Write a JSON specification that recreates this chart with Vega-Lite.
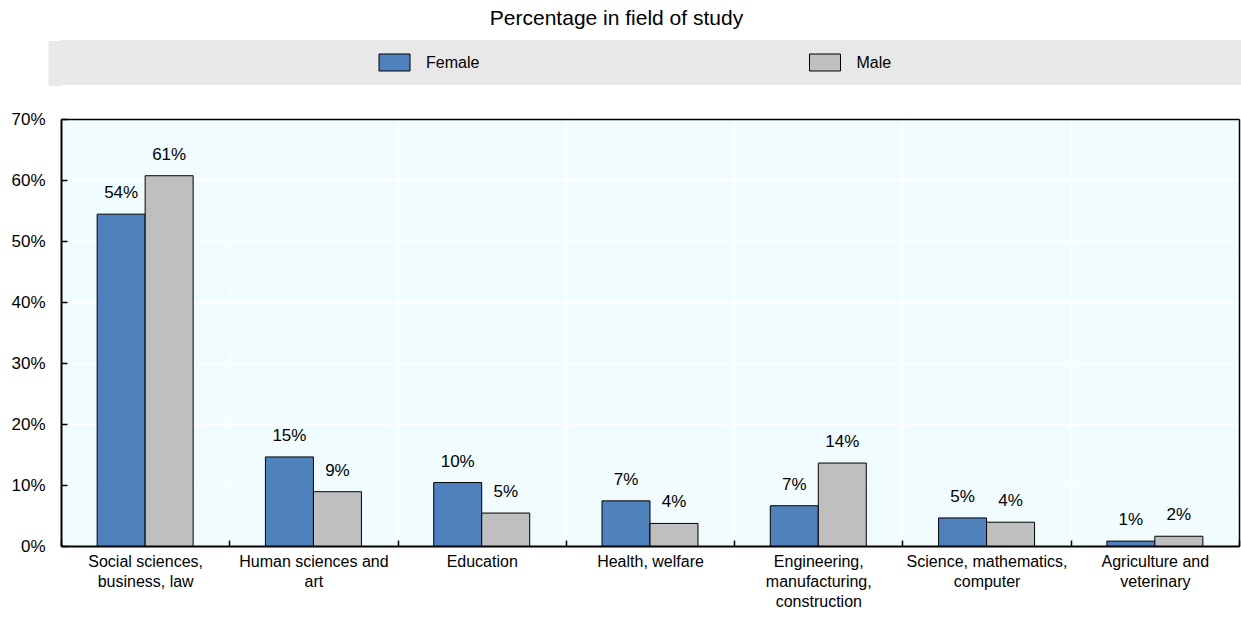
{
  "$schema": "https://vega.github.io/schema/vega-lite/v6.json",
  "padding": {"left": 10, "top": 8, "right": 0, "bottom": 0},
  "background": "white",
  "title": {"text": "Percentage in field of study", "anchor": "middle", "frame": "bounds", "fontSize": 21, "fontWeight": "normal", "font": "Liberation Sans", "color": "#000000", "offset": 11, "dx": -10},
  "spacing": 24,
  "resolve": {"scale": {"x": "independent", "y": "independent"}},
  "config": {"font": "Liberation Sans", "view": {"stroke": null}},
  "datasets": {
    "legend": [{"sex": "Female"}, {"sex": "Male"}],
    "main": [
      {"field": "Social sciences, business, law", "sex": "Female", "value": 0.544},
      {"field": "Social sciences, business, law", "sex": "Male", "value": 0.607},
      {"field": "Human sciences and art", "sex": "Female", "value": 0.146},
      {"field": "Human sciences and art", "sex": "Male", "value": 0.089},
      {"field": "Education", "sex": "Female", "value": 0.104},
      {"field": "Education", "sex": "Male", "value": 0.054},
      {"field": "Health, welfare", "sex": "Female", "value": 0.074},
      {"field": "Health, welfare", "sex": "Male", "value": 0.037},
      {"field": "Engineering, manufacturing, construction", "sex": "Female", "value": 0.066},
      {"field": "Engineering, manufacturing, construction", "sex": "Male", "value": 0.136},
      {"field": "Science, mathematics, computer", "sex": "Female", "value": 0.046},
      {"field": "Science, mathematics, computer", "sex": "Male", "value": 0.039},
      {"field": "Agriculture and veterinary", "sex": "Female", "value": 0.008},
      {"field": "Agriculture and veterinary", "sex": "Male", "value": 0.016}
    ]
  },
  "vconcat": [
    {
      "width": 1181,
      "height": 45,
      "view": {"fill": "#e8e8e8", "stroke": null},
      "data": {"name": "legend"},
      "encoding": {
        "x": {"field": "sex", "type": "nominal", "scale": {"type": "point", "padding": 0.8717, "align": 0.4444}, "axis": null},
        "y": {"datum": 0.5, "type": "quantitative", "scale": {"domain": [0, 1]},
              "axis": {"values": [0.5], "labels": false, "domain": false, "grid": false, "ticks": true, "tickSize": 13, "tickWidth": 45, "tickCap": "butt", "tickColor": "#e8e8e8", "title": null}}
      },
      "layer": [
        {
          "mark": {"type": "point", "shape": "M-1,-0.548H1V0.548H-1Z", "size": 961, "filled": true, "stroke": "#000000", "strokeWidth": 1, "opacity": 1},
          "encoding": {"fill": {"field": "sex", "type": "nominal", "scale": {"domain": ["Female", "Male"], "range": ["#4F81BD", "#BFBFBF"]}, "legend": null}}
        },
        {
          "mark": {"type": "text", "align": "left", "baseline": "middle", "dx": 31.5, "fontSize": 16, "color": "#000000"},
          "encoding": {"text": {"field": "sex", "type": "nominal"}}
        }
      ]
    },
    {
      "width": 1178,
      "height": 427,
      "view": {"fill": "#F0FCFF", "stroke": null},
      "data": {"name": "main"},
      "resolve": {"axis": {"x": "independent", "y": "independent"}},
      "layer": [
        {
          "mark": {"type": "bar", "stroke": "#000000", "strokeWidth": 1},
          "encoding": {
            "x": {"field": "field", "type": "nominal",
                  "sort": ["Social sciences, business, law", "Human sciences and art", "Education", "Health, welfare", "Engineering, manufacturing, construction", "Science, mathematics, computer", "Agriculture and veterinary"],
                  "scale": {"paddingInner": 0, "paddingOuter": 0},
                  "axis": {"title": null, "labelAngle": 0, "tickBand": "extent", "ticks": true, "tickSize": -6, "tickColor": "#000000", "tickWidth": 1.5,
                           "grid": true, "gridColor": "#ffffff", "gridWidth": 1.5, "domainColor": "#000000", "domainWidth": 2,
                           "labelFontSize": 16, "labelColor": "#000000", "labelPadding": 13, "labelLineHeight": 20, "labelBaseline": "top", "labelLimit": 0,
                           "labelExpr": "{'Social sciences, business, law': ['Social sciences,', 'business, law'], 'Human sciences and art': ['Human sciences and', 'art'], 'Education': 'Education', 'Health, welfare': 'Health, welfare', 'Engineering, manufacturing, construction': ['Engineering,', 'manufacturing,', 'construction'], 'Science, mathematics, computer': ['Science, mathematics,', 'computer'], 'Agriculture and veterinary': ['Agriculture and', 'veterinary']}[datum.label]"}},
            "xOffset": {"field": "sex", "type": "nominal", "sort": ["Female", "Male"], "scale": {"paddingInner": 0, "paddingOuter": 0.753}},
            "y": {"field": "value", "type": "quantitative", "scale": {"domain": [0, 0.7], "nice": false},
                  "axis": {"title": null, "values": [0, 0.1, 0.2, 0.3, 0.4, 0.5, 0.6, 0.7], "format": ".0%", "tickSize": -6, "tickColor": "#000000", "tickWidth": 1.5,
                           "grid": true, "gridColor": "#ffffff", "gridWidth": 1.5, "domainColor": "#000000", "domainWidth": 2,
                           "labelFontSize": 17, "labelColor": "#000000", "labelPadding": 22}},
            "fill": {"field": "sex", "type": "nominal", "scale": {"domain": ["Female", "Male"], "range": ["#4F81BD", "#BFBFBF"]}, "legend": null}
          }
        },
        {
          "mark": {"type": "text", "baseline": "alphabetic", "dy": -16, "fontSize": 17, "color": "#000000"},
          "encoding": {
            "x": {"field": "field", "type": "nominal",
                  "sort": ["Social sciences, business, law", "Human sciences and art", "Education", "Health, welfare", "Engineering, manufacturing, construction", "Science, mathematics, computer", "Agriculture and veterinary"],
                  "axis": {"orient": "top", "labels": false, "ticks": false, "grid": false, "domain": true, "domainColor": "#000000", "domainWidth": 1.5, "title": null, "zindex": 1}},
            "xOffset": {"field": "sex", "type": "nominal", "sort": ["Female", "Male"]},
            "y": {"field": "value", "type": "quantitative",
                  "axis": {"orient": "right", "labels": false, "ticks": false, "grid": false, "domain": true, "domainColor": "#000000", "domainWidth": 1.5, "title": null, "zindex": 1}},
            "text": {"field": "value", "type": "quantitative", "format": ".0%"}
          }
        }
      ]
    }
  ]
}
